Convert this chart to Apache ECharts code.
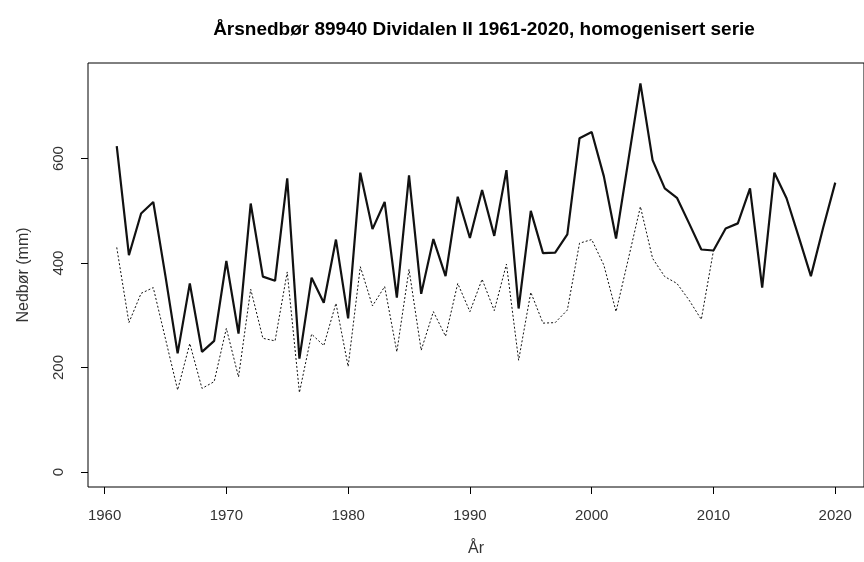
<!DOCTYPE html>
<html lang="no">
<head>
<meta charset="utf-8">
<title>Årsnedbør 89940 Dividalen II</title>
<script src="https://cdn.jsdelivr.net/npm/echarts@6/dist/echarts.min.js"></script>
<style>
  html, body { margin: 0; padding: 0; background: #fff; }
  #chart { width: 864px; height: 562px; }
</style>
</head>
<body>
<div id="chart"></div>
<script>
// årstall 1961-2020
const years = [
  1961, 1962, 1963, 1964, 1965, 1966, 1967, 1968, 1969, 1970,
  1971, 1972, 1973, 1974, 1975, 1976, 1977, 1978, 1979, 1980,
  1981, 1982, 1983, 1984, 1985, 1986, 1987, 1988, 1989, 1990,
  1991, 1992, 1993, 1994, 1995, 1996, 1997, 1998, 1999, 2000,
  2001, 2002, 2003, 2004, 2005, 2006, 2007, 2008, 2009, 2010,
  2011, 2012, 2013, 2014, 2015, 2016, 2017, 2018, 2019, 2020
]

// homogenisert serie (heltrukken)
const homogenised = [
  624, 415, 495, 517, 375, 227, 361, 230, 251, 404,
  265, 514, 374, 366, 562, 217, 372, 324, 445, 294,
  573, 465, 517, 334, 568, 341, 446, 375, 527, 448,
  540, 452, 578, 313, 500, 419, 420, 455, 639, 651,
  566, 447, 595, 744, 597, 543, 525, 476, 426, 424,
  466, 476, 543, 353, 573, 524, 450, 375, 467, 554
]

// målt serie (prikket), bare til 2010
const measured = [
  430, 286, 342, 353, 255, 157, 246, 160, 173, 275,
  182, 350, 256, 251, 383, 152, 264, 242, 323, 202,
  393, 318, 355, 230, 388, 233, 307, 260, 361, 307,
  369, 309, 398, 214, 344, 285, 286, 310, 438, 445,
  396, 307, 407, 508, 409, 374, 361, 329, 292, 424
]

const xTicks = [1960, 1970, 1980, 1990, 2000, 2010, 2020]
const yTicks = [0, 200, 400, 600]

const FONT = 'Liberation Sans, Arial, sans-serif'

function pairs(values) {
  return values.map((v, i) => [years[i], v])
}

const chart = echarts.init(document.getElementById('chart'), null, { renderer: 'canvas' })

chart.setOption({
  backgroundColor: '#ffffff',
  animation: false,
  title: {
    text: 'Årsnedbør 89940 Dividalen II 1961-2020, homogenisert serie',
    left: 479,
    textAlign: 'center',
    top: 15,
    textStyle: { fontFamily: FONT, fontSize: 19, fontWeight: 'bold', color: '#000' }
  },
  grid: {
    left: 88,
    right: -5,
    top: 63,
    bottom: 75,
    show: true,
    borderColor: '#000',
    borderWidth: 1,
    backgroundColor: 'transparent'
  },
  xAxis: {
    type: 'value',
    min: 1958.64,
    max: 2022.36,
    name: 'År',
    nameLocation: 'middle',
    nameGap: 54,
    nameTextStyle: { fontFamily: FONT, fontSize: 16, color: '#333' },
    axisLine: { show: false, onZero: false },
    splitLine: { show: false },
    axisTick: {
      show: true,
      length: 7,
      customValues: xTicks,
      lineStyle: { color: '#000', width: 1 }
    },
    axisLabel: {
      customValues: xTicks,
      formatter: (value) => String(value),
      margin: 21,
      fontFamily: FONT,
      fontSize: 15,
      color: '#333'
    }
  },
  yAxis: {
    type: 'value',
    min: -28.7,
    max: 783,
    name: 'Nedbør (mm)',
    nameLocation: 'middle',
    nameGap: 56,
    nameRotate: 90,
    nameTextStyle: { fontFamily: FONT, fontSize: 16, color: '#333' },
    axisLine: { show: false, onZero: false },
    splitLine: { show: false },
    axisTick: {
      show: true,
      length: 7,
      customValues: yTicks,
      lineStyle: { color: '#000', width: 1 }
    },
    axisLabel: {
      customValues: yTicks,
      formatter: (value) => String(value),
      rotate: 90,
      margin: 22,
      fontFamily: FONT,
      fontSize: 15,
      color: '#333'
    }
  },
  series: [
    {
      name: 'Målt',
      type: 'line',
      data: pairs(measured),
      showSymbol: false,
      silent: true,
      z: 2,
      lineStyle: { color: '#111', width: 1, type: [2, 2] }
    },
    {
      name: 'Homogenisert',
      type: 'line',
      data: pairs(homogenised),
      showSymbol: false,
      silent: true,
      z: 3,
      lineStyle: { color: '#111', width: 2.2 }
    }
  ]
})
</script>
</body>
</html>
